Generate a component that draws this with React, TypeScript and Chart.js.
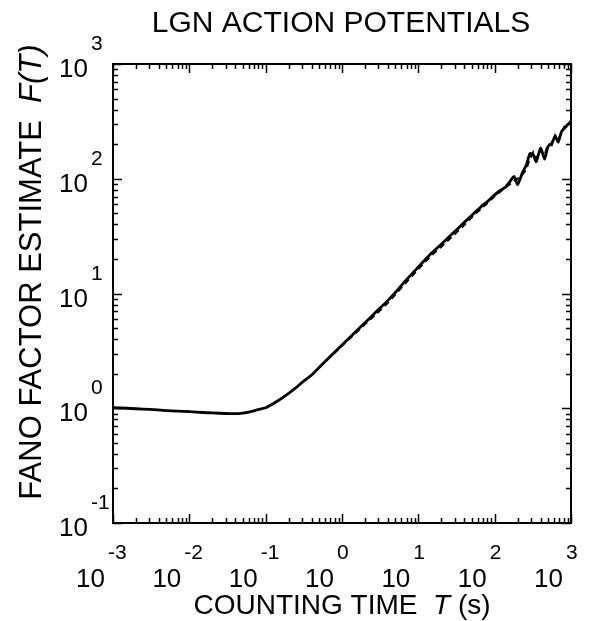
import { useEffect, useRef } from "react";
import { Chart, registerables } from "chart.js";

Chart.register(...registerables);

const TITLE = "LGN ACTION POTENTIALS";
const Y_TITLE_MAIN = "FANO FACTOR ESTIMATE  ";
const Y_TITLE_VAR = "F(T)";
const X_TITLE_MAIN = "COUNTING TIME  ";
const X_TITLE_VAR = "T";
const X_TITLE_UNIT = " (s)";

const X_DECADES = [-3, -2, -1, 0, 1, 2, 3];
const Y_DECADES = [-1, 0, 1, 2, 3];
const MINOR_STEPS = [2, 3, 4, 5, 6, 7, 8, 9];

// counting time T (s) and Fano factor F(T), solid curve
const TIME = [
  0.001, 0.0015, 0.002, 0.003, 0.005, 0.007, 0.01, 0.015, 0.02, 0.03, 0.04,
  0.05, 0.06, 0.07, 0.08, 0.1, 0.12, 0.15, 0.2, 0.25, 0.3, 0.4, 0.5, 0.7, 1,
  1.5, 2, 3, 4, 5, 7, 10, 15, 20, 30, 40, 50, 70, 80, 100, 120, 140, 160, 180,
  200, 230, 260, 290, 320, 350, 400, 450, 500, 560, 620, 680, 750, 820, 900,
  1000,
];
const FANO = [
  1.01, 1.0, 0.99, 0.977, 0.955, 0.944, 0.933, 0.918, 0.91, 0.9, 0.897, 0.908,
  0.927, 0.95, 0.973, 1.01, 1.08, 1.18, 1.35, 1.51, 1.68, 1.95, 2.26, 2.82,
  3.55, 4.62, 5.56, 7.24, 8.71, 10.2, 13.2, 17.0, 22.6, 26.9, 34.7, 41.7, 47.9,
  58.9, 63.1, 72.4, 79.4, 85.1, 95.5, 104.7, 89.1, 112, 132, 166, 162, 141,
  186, 148, 191, 204, 234, 209, 257, 275, 295, 316,
];

// dashed curve (mostly hidden under the solid one)
const TIME_DASH = [
  0.5, 0.7, 1, 1.5, 2, 3, 4, 5, 7, 10, 15, 20, 30, 40, 50, 70, 80, 100, 120,
  140, 160, 180, 200, 230, 260, 290, 320, 350, 400, 450, 500, 560, 620, 680,
  750, 820, 900, 1000,
];
const FANO_DASH = [
  2.26, 2.8, 3.5, 4.5, 5.4, 6.9, 8.3, 9.8, 12.6, 16.3, 21.6, 25.6, 32.9, 39.5,
  46.0, 56.5, 61.2, 70.5, 77.8, 84.0, 90.1, 96.0, 100.2, 108, 121, 150, 170,
  150, 176, 160, 200, 196, 240, 220, 250, 285, 280, 320,
];

const FONT = "'Liberation Sans', Arial, Helvetica, sans-serif";

const framePlugin = {
  id: "framePlugin",
  afterDraw(chart: any) {
    const ctx = chart.ctx as CanvasRenderingContext2D;
    const { left, right, top, bottom } = chart.chartArea;
    const xs = chart.scales.x;
    const ys = chart.scales.y;
    ctx.save();
    ctx.strokeStyle = "#000";
    ctx.fillStyle = "#000";

    // frame
    ctx.lineWidth = 2;
    ctx.strokeRect(left, top, right - left, bottom - top);

    // ticks
    ctx.lineWidth = 1.5;
    const steps = [1, ...MINOR_STEPS];
    X_DECADES.forEach((d) => {
      steps.forEach((m) => {
        const v = m * Math.pow(10, d);
        if (v > xs.max * 1.0001) return;
        const px = Math.round(xs.getPixelForValue(v)) + 0.5;
        const len = m === 1 ? 9 : 5;
        ctx.beginPath();
        ctx.moveTo(px, bottom);
        ctx.lineTo(px, bottom - len);
        ctx.moveTo(px, top);
        ctx.lineTo(px, top + len);
        ctx.stroke();
      });
    });
    Y_DECADES.forEach((d) => {
      steps.forEach((m) => {
        const v = m * Math.pow(10, d);
        if (v > ys.max * 1.0001) return;
        const py = Math.round(ys.getPixelForValue(v)) + 0.5;
        const len = m === 1 ? 9 : 5;
        ctx.beginPath();
        ctx.moveTo(left, py);
        ctx.lineTo(left + len, py);
        ctx.moveTo(right, py);
        ctx.lineTo(right - len, py);
        ctx.stroke();
      });
    });

    // x tick labels
    X_DECADES.forEach((d) => {
      const px = xs.getPixelForValue(Math.pow(10, d));
      ctx.font = `26px ${FONT}`;
      ctx.textAlign = "right";
      ctx.textBaseline = "alphabetic";
      ctx.fillText("10", px - 8, 587);
      ctx.font = `21px ${FONT}`;
      ctx.textAlign = "left";
      ctx.fillText(String(d), px - 5, 559);
    });

    // y tick labels
    Y_DECADES.forEach((d) => {
      const py = ys.getPixelForValue(Math.pow(10, d));
      ctx.font = `26px ${FONT}`;
      ctx.textAlign = "right";
      ctx.textBaseline = "alphabetic";
      ctx.fillText("10", 88, py + 13);
      ctx.font = `21px ${FONT}`;
      ctx.textAlign = "left";
      ctx.fillText(String(d), 91, py - 14);
    });

    // title
    ctx.font = `30px ${FONT}`;
    ctx.textAlign = "center";
    ctx.fillText(TITLE, (left + right) / 2 - 1, 32);

    // x title
    ctx.textAlign = "left";
    const nFont = `28px ${FONT}`;
    const iFont = `italic 28px ${FONT}`;
    ctx.font = nFont;
    const w1 = ctx.measureText(X_TITLE_MAIN).width;
    const w3 = ctx.measureText(X_TITLE_UNIT).width;
    ctx.font = iFont;
    const w2 = ctx.measureText(X_TITLE_VAR).width;
    const x0 = (left + right) / 2 - (w1 + w2 + w3) / 2;
    ctx.font = nFont;
    ctx.fillText(X_TITLE_MAIN, x0, 614);
    ctx.font = iFont;
    ctx.fillText(X_TITLE_VAR, x0 + w1, 614);
    ctx.font = nFont;
    ctx.fillText(X_TITLE_UNIT, x0 + w1 + w2, 614);

    // y title
    ctx.save();
    ctx.translate(41, 272);
    ctx.rotate(-Math.PI / 2);
    const yFont = `31px ${FONT}`;
    const yiFont = `italic 31px ${FONT}`;
    ctx.font = yFont;
    const v1 = ctx.measureText(Y_TITLE_MAIN).width;
    ctx.font = yiFont;
    const v2 = ctx.measureText(Y_TITLE_VAR).width;
    const y0 = -(v1 + v2) / 2;
    ctx.font = yFont;
    ctx.fillText(Y_TITLE_MAIN, y0, 0);
    ctx.font = yiFont;
    ctx.fillText(Y_TITLE_VAR, y0 + v1, 0);
    ctx.restore();

    ctx.restore();
  },
};

export default function App() {
  const ref = useRef<HTMLCanvasElement | null>(null);
  useEffect(() => {
    if (!ref.current) return;
    const chart = new Chart(ref.current, {
      type: "line",
      data: {
        datasets: [
          {
            data: TIME_DASH.map((t, i) => ({ x: t, y: FANO_DASH[i] })),
            borderColor: "#000",
            borderWidth: 2,
            borderDash: [6, 4],
            pointRadius: 0,
            fill: false,
            tension: 0,
          },
          {
            data: TIME.map((t, i) => ({ x: t, y: FANO[i] })),
            borderColor: "#000",
            borderWidth: 2.8,
            pointRadius: 0,
            fill: false,
            tension: 0.2,
          },
        ],
      },
      options: {
        animation: false,
        responsive: false,
        devicePixelRatio: 1,
        layout: { padding: { left: 113, right: 23, top: 64, bottom: 98 } },
        plugins: {
          legend: { display: false },
          tooltip: { enabled: false },
          title: { display: false },
        },
        scales: {
          x: { type: "logarithmic", min: 0.001, max: 1000, display: false },
          y: { type: "logarithmic", min: 0.1, max: 1000, display: false },
        },
      },
      plugins: [framePlugin],
    });
    return () => chart.destroy();
  }, []);
  return (
    <div style={{ position: "fixed", left: 0, top: 0, width: 594, height: 621, background: "#fff" }}>
      <canvas ref={ref} width={594} height={621} style={{ display: "block" }} />
    </div>
  );
}
